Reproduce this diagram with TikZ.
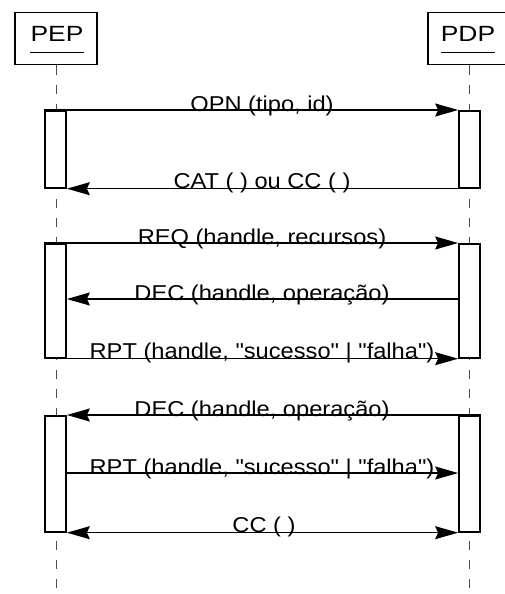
\documentclass[tikz,border=0pt]{standalone}
\usepackage{fontspec}
\usepackage{graphicx}
\setmainfont{Liberation Sans}[Ligatures=TeXOff]
\usetikzlibrary{arrows.meta}
\newcommand\wtxt[1]{\scalebox{1.1}[1]{#1}}
\newcommand\htxt[1]{\scalebox{1.2}[1]{#1}}
\tikzset{
  head/.style={draw,line width=1.5pt,minimum width=82pt,minimum height=52pt,inner sep=0pt,anchor=north},
  headtxt/.style={font=\fontsize{22}{24}\selectfont,anchor=base,inner sep=0pt},
  bar/.style={draw,fill=white,line width=1.7pt,minimum width=21pt,inner sep=0pt,anchor=north},
  life/.style={draw=black!70,line width=0.9pt,dash pattern=on 9pt off 10pt},
  msg/.style={line width=1.4pt,-{Stealth[length=23pt,width=13pt,inset=3pt]}},
  msgb/.style={line width=1.4pt,{Stealth[length=23pt,width=13pt,inset=3pt]}-{Stealth[length=23pt,width=13pt,inset=3pt]}},
  lbl/.style={font=\fontsize{21.5}{24}\selectfont,anchor=base,inner sep=0pt}
}
\begin{document}
\begin{tikzpicture}[x=1pt,y=-1pt]
\useasboundingbox (0,0) rectangle (505,594);
\clip (0,0) rectangle (505,594);
\fill[white] (0,0) rectangle (505,594);
% heads
\node[head] (pep) at (56,12) {};
\node[head] (pdp) at (469,12) {};
\node[headtxt] (peptxt) at (57,42) {\htxt{PEP}};
\node[headtxt] (pdptxt) at (468,42) {\htxt{PDP}};
\draw[line width=0.8pt] ([yshift=-10pt]peptxt.base west) -- ([yshift=-10pt]peptxt.base east);
\draw[line width=0.8pt] ([yshift=-10pt]pdptxt.base west) -- ([yshift=-10pt]pdptxt.base east);
% lifelines
\coordinate (pepend) at (56,600);
\coordinate (pdpend) at (469,600);
\draw[life] (pep.south) -- (pepend);
\draw[life] (pdp.south) -- (pdpend);
% activation bars
\node[bar,minimum height=77pt] (pepA) at (55.5,110) {};
\node[bar,minimum height=77pt] (pdpA) at (469.5,110) {};
\node[bar,minimum height=114pt] (pepB) at (55.5,243) {};
\node[bar,minimum height=114pt] (pdpB) at (469.5,243) {};
\node[bar,minimum height=116pt] (pepC) at (55.5,415) {};
\node[bar,minimum height=116pt] (pdpC) at (469.5,415) {};
% messages
\draw[msg] (pepA.north west) -- (pdpA.north west);
\node[lbl] at (262,111.5) {\wtxt{OPN (tipo, id)}};
\draw[msg] (pdpA.south east) -- (pepA.south east);
\node[lbl] at (262,188.5) {\wtxt{CAT ( ) ou CC ( )}};
\draw[msg] (pepB.north west) -- (pdpB.north west);
\node[lbl] at (262,244.5) {\wtxt{REQ (handle, recursos)}};
\coordinate (d2a) at (pdpB.west |- 0,299);
\coordinate (d2b) at (pepB.east |- 0,299);
\draw[msg] (d2a) -- (d2b);
\node[lbl] at (262,300.5) {\wtxt{DEC (handle, operação)}};
\draw[msg] (pepB.south west) -- (pdpB.south west);
\node[lbl] at (262,358.5) {\wtxt{RPT (handle, "sucesso" | "falha")}};
\draw[msg] (pdpC.north east) -- (pepC.north east);
\node[lbl] at (262,416.5) {\wtxt{DEC (handle, operação)}};
\coordinate (r3a) at (pepC.east |- 0,473);
\coordinate (r3b) at (pdpC.west |- 0,473);
\draw[msg] (r3a) -- (r3b);
\node[lbl] at (262,474.5) {\wtxt{RPT (handle, "sucesso" | "falha")}};
\draw[msgb] (pepC.south east) -- (pdpC.south west);
\node[lbl] at (264,532.5) {\wtxt{CC ( )}};
\end{tikzpicture}
\end{document}
